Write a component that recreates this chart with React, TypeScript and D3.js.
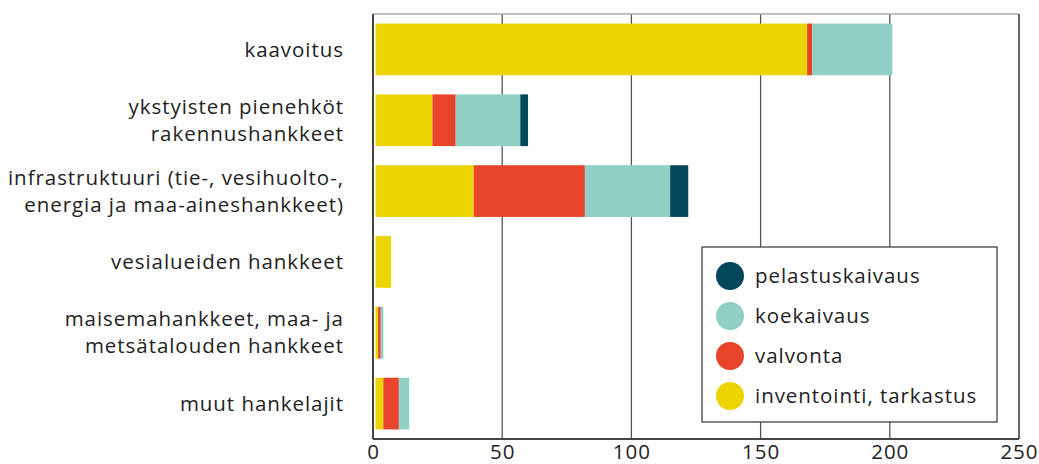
import React from "react";
import * as d3 from "d3";

const categories: string[][] = [
  ["kaavoitus"],
  ["ykstyisten pienehköt", "rakennushankkeet"],
  ["infrastruktuuri (tie-, vesihuolto-,", "energia ja maa-aineshankkeet)"],
  ["vesialueiden hankkeet"],
  ["maisemahankkeet, maa- ja", "metsätalouden hankkeet"],
  ["muut hankelajit"],
];
const inventointi = [168, 23, 39, 7, 2, 4];
const valvonta = [2, 9, 43, 0, 1, 6];
const koekaivaus = [31, 25, 33, 0, 1, 4];
const pelastuskaivaus = [0, 3, 7, 0, 0, 0];
const seriesNames = ["inventointi, tarkastus", "valvonta", "koekaivaus", "pelastuskaivaus"];
const seriesColors = ["#ECD400", "#E8432B", "#8FCFC4", "#03475A"];
const xTicks = [0, 50, 100, 150, 200, 250];

const W = 1039, H = 464;
const left = 373, right = 1019, top = 14, bottom = 439;
const FONT = "'Open Sans', sans-serif";
const FS = 20.5;
const LS = 0.95;

export default function App() {
  const x = d3.scaleLinear().domain([0, 250]).range([left, right]);
  const y = d3.scaleBand<number>().domain(d3.range(categories.length)).range([top, bottom]).paddingInner(0.27).paddingOuter(0.135);
  const rows = categories.map((_, i) => ({
    inv: inventointi[i], val: valvonta[i], koe: koekaivaus[i], pel: pelastuskaivaus[i],
  }));
  const stack = d3.stack<any>().keys(["inv", "val", "koe", "pel"])(rows);
  const legendOrder = [3, 2, 1, 0];
  const x0 = x(0) + 2.5;
  return (
    <svg width={W} height={H} style={{ position: "absolute", left: 0, top: 0, fontFamily: FONT, letterSpacing: LS }}>
      <rect x={0} y={0} width={W} height={H} fill="#fff" />
      {xTicks.slice(1, -1).map((t) => (
        <line key={t} x1={x(t)} x2={x(t)} y1={top} y2={bottom} stroke="#555" strokeWidth={1.3} />
      ))}
      {stack.map((s, si) =>
        s.map((d, i) => {
          const a = Math.max(x(d[0]), x0);
          const b = x(d[1]);
          if (b - a <= 0 || d[1] - d[0] <= 0) return null;
          return <rect key={si + "-" + i} x={a} y={y(i)!} width={b - a} height={y.bandwidth()} fill={seriesColors[si]} />;
        })
      )}
      <line x1={left} x2={right} y1={top} y2={top} stroke="#aaa" strokeWidth={1.5} />
      <line x1={left} x2={left} y1={top} y2={bottom} stroke="#444" strokeWidth={2} />
      <line x1={right} x2={right} y1={top} y2={bottom} stroke="#333" strokeWidth={1.5} />
      <line x1={left} x2={right} y1={bottom} y2={bottom} stroke="#444" strokeWidth={2} />
      {xTicks.map((t) => (
        <text key={t} x={x(t) + LS / 2} y={459} textAnchor="middle" fontSize={FS} fill="#222">{t}</text>
      ))}
      {categories.map((lines, i) => {
        const cy = y(i)! + y.bandwidth() / 2;
        const lh = 27;
        return lines.map((ln, j) => (
          <text key={i + "-" + j} x={343 + LS} y={cy + (j - (lines.length - 1) / 2) * lh} dy="0.35em" textAnchor="end" fontSize={FS} fill="#222">
            {ln}
          </text>
        ));
      })}
      <rect x={702} y={247} width={295} height={175} fill="#fff" stroke="#333" strokeWidth={1.2} />
      {legendOrder.map((si, k) => (
        <g key={si} transform={`translate(730, ${276 + k * 40})`}>
          <circle r={14} fill={seriesColors[si]} />
          <text x={25} dy="0.35em" fontSize={FS} fill="#222">{seriesNames[si]}</text>
        </g>
      ))}
    </svg>
  );
}
